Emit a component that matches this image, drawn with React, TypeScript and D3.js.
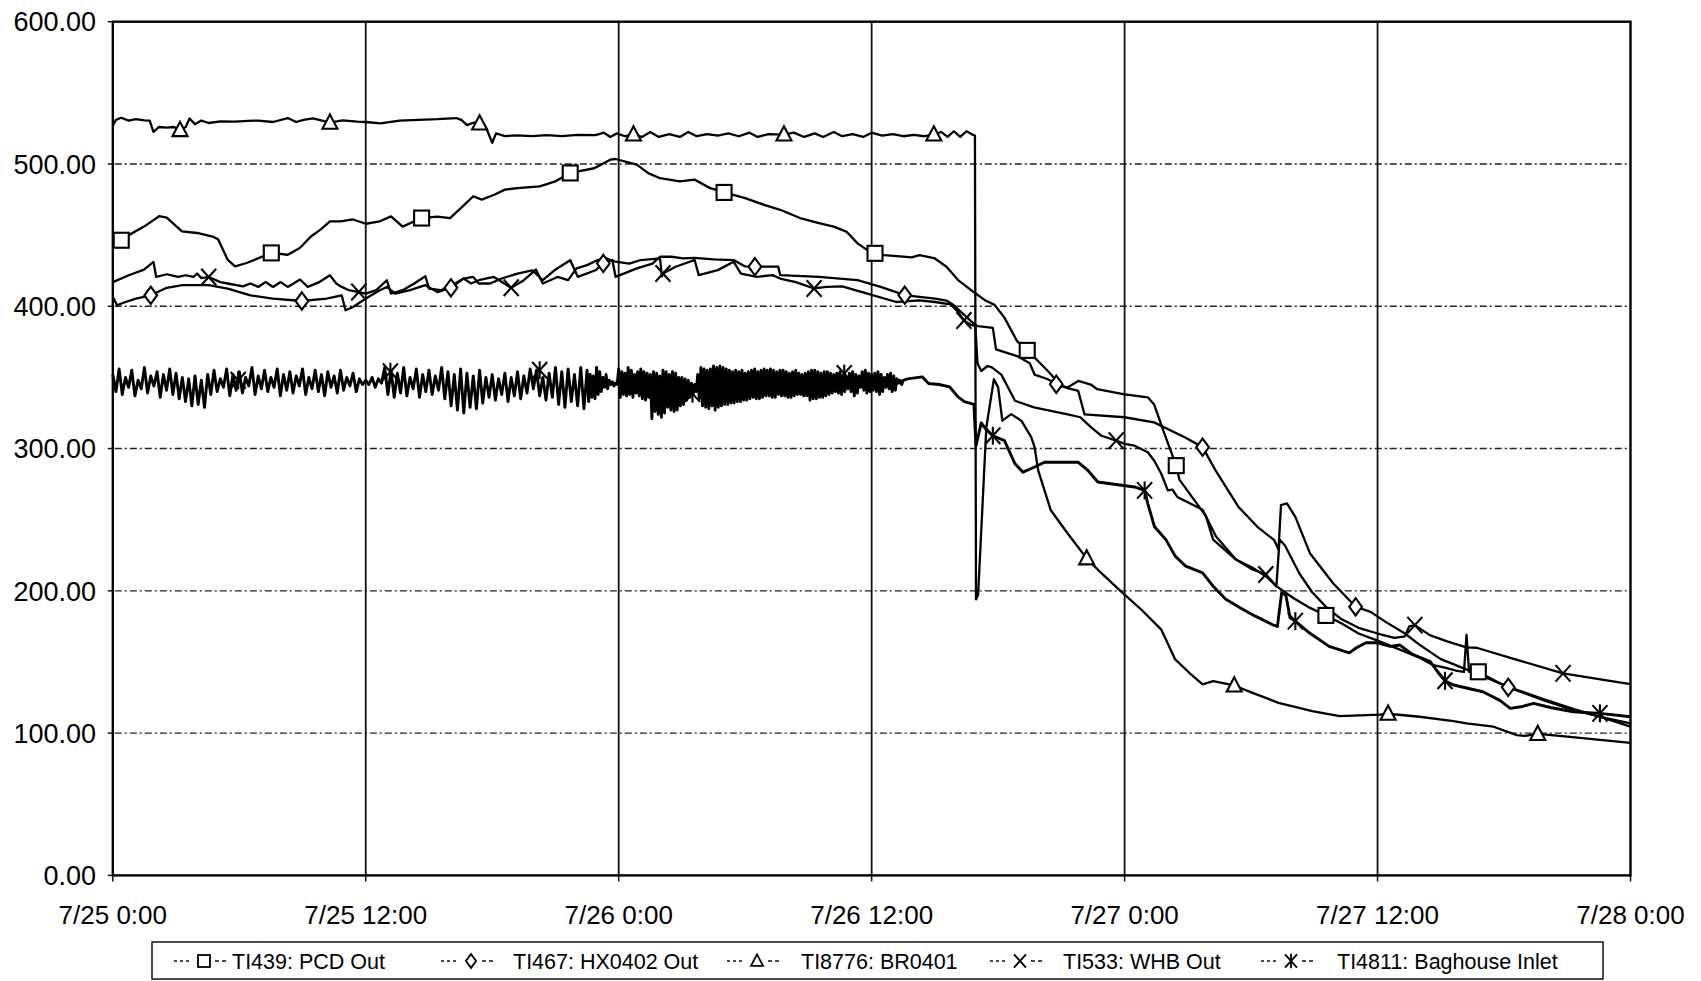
import React from 'react';
import * as d3 from 'd3';

type P = [number, number];

const W = 1701, H = 981;
const PL = 112.8, PR = 1630.5, PT = 21.7, PB = 875.4;

const xTickHours = [0, 12, 24, 36, 48, 60, 72];
const xTickLabels = ['7/25 0:00', '7/25 12:00', '7/26 0:00', '7/26 12:00', '7/27 0:00', '7/27 12:00', '7/28 0:00'];
const yTicks = [0, 100, 200, 300, 400, 500, 600];

// hours since 7/25 0:00, temperature
const pcdOut: P[] = [
[0,446.4],[0.4,446.4],[0.76,450],[1.48,456],[2.2,463.3],[2.56,462.3],[3.28,452.6],[4.0,451.5],[4.73,449],[5.0,447],[5.45,432.7],[5.8,428],[6.35,430.4],[7.52,437.5],[8.3,436.2],[8.87,441],[9.4,449],[9.87,454],[10.3,459.7],[10.8,459.7],[11.4,461],[12.0,458],[12.67,459.7],[13.2,463.2],[13.75,456],[14.65,462],[15.4,463],[16.0,462],[16.6,470.2],[17.1,477.3],[17.5,475],[18.1,478.4],[18.6,482],[19.2,483],[20.25,484.3],[21.0,487.8],[21.7,493.7],[22.84,497],[23.6,503],[23.85,503.5],[24.86,499.5],[25.4,493.6],[25.96,490],[26.9,487.8],[27.6,489],[28.35,483],[29.0,480],[30.0,476],[30.9,471.3],[31.66,467.8],[32.6,462],[33.5,458.4],[34.2,456],[34.8,452.5],[35.33,444.2],[35.9,438.4],[36.16,437.2],[36.6,436],[37.9,434.4],[38.27,436],[39.0,433.6],[39.55,427.8],[40.1,418.4],[40.84,410],[41.4,404],[41.83,401],[42.3,392],[42.9,375.5],[43.38,369],[43.73,363.9],[44.36,354.5],[45.0,344],[45.3,343],[45.8,347.5],[46.4,345],[46.7,341.7],[48.0,338],[49.1,336],[49.4,331],[49.9,310],[50.45,288],[50.6,278.2],[51.86,252.5],[52.2,236],[53.28,222],[54.07,216.2],[54.7,210.3],[55.2,203.3],[56.0,195],[56.8,188],[57.55,182.7],[58.3,177],[59.1,170],[60.0,165],[61.0,159],[62.0,153],[62.6,148],[63.2,146],[63.7,144],[64.1,143],[64.22,169],[64.34,143],[64.78,143.1],[65.8,135],[66.2,132.5],[67.86,124],[69.28,117],[70.55,111.5],[72,104.5]
];

const hx0402Out: P[] = [
[0,406.6],[0.2,400.7],[0.6,403],[1.1,405.4],[1.8,407.7],[2.56,413],[3.3,414.8],[4.55,414.8],[5.45,412.4],[6.53,407.7],[7.6,405.4],[8.97,403.7],[10.14,405.4],[10.86,407.7],[11.04,397.2],[11.4,399.5],[12.0,405.4],[12.67,411.3],[13.0,413.6],[13.4,408.9],[14.1,411.3],[14.83,414.8],[15.4,410],[16.04,413],[16.64,419.5],[17.1,420.6],[17.36,416],[17.9,416],[18.45,419.5],[19.2,423],[19.9,425.3],[20.4,418.3],[20.95,425.3],[21.7,432.4],[22.06,420.7],[22.9,425.3],[23.27,430.1],[23.7,432.5],[23.85,420.7],[24.86,426.6],[25.6,430],[25.96,434.8],[26.5,434.8],[27.05,433.6],[27.6,434],[28.5,433],[29.45,432.5],[30.0,428],[30.46,427.8],[31.57,427.8],[31.66,421.9],[33.5,420.7],[35.33,418.4],[36.43,413.6],[37.57,407.8],[38.27,406.6],[39.0,405.4],[39.55,404],[39.9,400.7],[40.84,387.8],[41.04,386],[41.75,384.8],[41.9,369.7],[42.9,365],[43.5,360],[43.73,352],[44.36,348.7],[44.76,345.2],[45.3,342.5],[45.8,340.5],[46.1,324],[48.0,322],[49.4,318.4],[50.85,308],[51.7,301],[52.3,285],[53.4,259],[54.3,245],[55.1,235.6],[55.3,229],[55.42,260.2],[55.7,261.4],[56.1,252],[56.8,226.2],[57.9,205.2],[58.96,188.8],[59.67,185.2],[60.4,178],[61.3,170],[62.0,162],[63.0,152],[64.0,146],[65.0,140],[65.8,135],[66.2,132.2],[67.86,123.2],[69.28,116.2],[70.55,111.5],[72,106.9]
];

const br0401: P[] = [
[0,527],[0.15,531],[0.4,532.5],[0.75,530.5],[1.1,531.5],[1.5,530.7],[1.75,530.5],[1.93,522.6],[2.2,526],[2.56,525.5],[2.9,526],[3.19,523.8],[3.46,526],[3.64,532],[3.9,528],[4.2,530.5],[4.55,528.8],[5.1,530],[5.8,529.7],[6.4,530.3],[6.9,530.5],[7.6,529.5],[8.3,532.3],[8.7,529.5],[9.05,531],[9.5,532],[10.3,529],[10.9,530.7],[11.6,529.8],[12.0,529.5],[12.7,528.5],[13.6,530.5],[14.5,531],[15.4,531.5],[16.3,532.3],[16.55,530.8],[16.8,527.3],[17.1,529],[17.4,528.5],[17.72,525],[18.0,514.9],[18.18,521.5],[18.6,519.6],[19.15,520.1],[19.9,519.6],[20.6,520.3],[21.3,519.6],[22.05,520.5],[22.9,520.3],[23.3,522],[23.6,519],[23.9,521.5],[24.3,519.5],[24.7,520.7],[25.1,519],[25.5,522.5],[25.9,519],[26.4,521],[26.9,519],[27.3,522.5],[27.7,519.5],[28.2,521],[28.7,520],[29.2,521.5],[29.7,519.5],[30.2,522],[30.6,519],[31.1,521],[31.84,520.7],[32.3,522],[32.8,519],[33.3,521.5],[33.7,519],[34.2,522.5],[34.6,519.5],[35.1,521],[35.6,519],[36.0,522],[36.5,520],[37.0,521],[37.5,519.5],[38.0,520.5],[38.5,519.5],[38.95,520.7],[39.3,522.5],[39.6,519],[39.9,523],[40.2,519],[40.5,523],[40.8,520.5],[40.9,520],[40.95,194],[41.05,197],[41.44,315],[41.8,348.7],[42.0,343],[42.2,319.6],[42.62,324.2],[43.1,319.6],[43.57,308],[43.73,301],[43.9,284.6],[44.2,270.6],[44.5,256.6],[45.3,240.3],[46.2,222.8],[46.9,212.4],[47.84,199.5],[48.8,186.7],[49.74,172.7],[49.96,165.8],[50.4,151.8],[51.07,142.4],[51.7,134.2],[52.2,136.5],[53.2,133.5],[54.07,128.3],[55.3,121.3],[56.9,115.5],[58.2,112],[60.1,113],[60.5,113.6],[62.0,111.5],[63.6,108.4],[64.22,106.9],[65.5,104.5],[66.6,98.6],[67.0,98],[67.6,99.4],[69.0,97.5],[72,93.2]
];

const whbOut: P[] = [
[0,417],[0.76,421.8],[1.48,425.8],[1.93,431.2],[2.06,420.6],[2.56,422.5],[3.1,420.6],[3.46,421.8],[3.82,420.6],[4.0,423],[4.2,419.8],[4.55,420.6],[5.1,417],[5.45,416],[6.17,414],[6.53,416],[6.9,413.6],[7.25,417],[7.6,413.6],[7.96,417],[8.3,413.6],[8.88,418.8],[9.25,413.6],[9.8,417],[10.3,421.8],[10.6,416],[10.86,413.6],[11.2,411.3],[11.67,410],[12.0,408.9],[12.5,411.3],[13.0,418.3],[13.2,408.9],[13.75,411.3],[14.3,416],[14.83,421.1],[15.0,412.4],[15.56,411.3],[16.1,414.8],[16.64,419.5],[17.0,416],[17.36,418.3],[18.08,420.6],[18.9,413],[19.5,418.3],[20.07,425.8],[20.4,416],[21.1,420.6],[21.6,418.4],[22.0,426.6],[22.5,428.9],[23.0,432.5],[23.4,433.6],[23.85,431.3],[24.5,430],[25.05,432.5],[25.96,433.6],[26.05,421],[26.1,423],[26.7,427.8],[27.6,432.5],[27.8,421.9],[28.7,425.4],[29.45,431.3],[29.8,423],[30.56,420.7],[31.3,421.9],[31.66,419.5],[32.4,417],[33.27,412.5],[33.86,413.6],[34.6,414],[35.88,408.5],[37.17,403],[38.27,404.2],[39.0,403],[39.74,401.4],[40.1,396],[40.38,390],[40.7,387],[40.92,386],[41.02,360],[41.2,354.5],[41.5,358],[41.7,357],[42.15,352],[42.8,333.6],[43.7,329],[45.3,324],[45.9,322],[46.4,315],[46.9,309],[47.6,305.6],[48.0,303.3],[48.47,302],[49.1,297.4],[49.4,291.6],[49.74,282.3],[50.05,270.6],[50.27,271.2],[50.5,266],[51.7,257],[52.33,238.4],[53.28,222],[54.07,215],[54.7,211.5],[55.2,203],[55.35,236],[55.6,232],[56.3,212],[56.9,199],[57.6,188],[58.3,180],[59.1,174],[60.0,170],[60.8,167],[61.3,168],[61.5,175],[61.77,175.9],[62.48,168.9],[63.3,164.5],[64.22,160.3],[64.7,160],[66.5,152],[68.8,142],[70.5,138],[72,134.5]
];

// Baghouse inlet: oscillating readings, first block sampled every 0.15 h from 7/25 0:00
const bagNoiseAStart = 0;
const bagNoiseAStep = 0.15;
const bagNoiseA: number[] = [
352,340,356,338,350,343,355,337,348,342,
357,339,351,344,354,336,352,341,356,338,
353,335,350,333,349,330,351,331,348,329,
352,338,355,340,349,343,356,337,352,341,
354,339,350,344,357,338,351,342,355,340,
350,343,356,337,352,341,354,339,351,344,
356,338,350,342,355,340,352,337,354,343,
351,339,355,341,350,344,353,340,349,345,
348,345,350,343,349,346,357,338,355,336,
353,339,357,337,350,342,356,336,352,340,
355,338,351,341,357,335,354,330,352,327,
356,325,353,329,351,328,355,332,350,336,
352,334,349,338,353,333,350,337,354,335,
351,339,356,342,355,337,350,334,353,336,
357,331,354,329,356,333,352,330,357,328
];
// second, denser block sampled every 0.075 h from 7/25 22:30
const bagNoiseBStart = 22.5;
const bagNoiseBStep = 0.075;
const bagNoiseB: number[] = [
355,333,352,336,351,335,357,338,354,340,350,343,352,342,348,345,347,344,346,345,
356,336,354,338,353,337,357,338,355,336,352,339,354,337,356,335,354,334,353,336,
352,321,354,326,353,324,351,322,355,325,354,329,352,327,354,326,353,327,350,330,
350,331,349,334,348,336,346,338,345,340,352,335,357,330,356,329,355,328,356,330,
358,327,357,329,358,330,357,331,356,331,355,332,354,332,355,333,354,333,355,334,
353,334,354,335,355,336,356,335,354,335,355,336,356,337,355,337,356,336,355,336,
354,338,355,337,355,337,354,336,353,336,354,337,355,338,353,338,352,337,353,337,
354,334,355,335,355,335,354,336,353,336,354,337,354,338,353,339,352,340,353,339,
354,338,351,340,350,342,353,340,354,337,352,339,351,343,354,341,355,339,353,340,
352,341,353,340,354,338,352,340,350,343,352,342,353,340,351,341,349,346,348,345
];
const bagTail: P[] = [
[37.5,348],[37.7,349],[38.4,350.4],[38.7,345.7],[39.2,345],[39.7,343.3],[40.1,336.3],[40.4,333],[40.85,331],[40.95,302],[41.2,318],[41.45,313],[41.75,309],[42.3,305.6],[42.8,289.3],[43.18,283.4],[43.73,287],[44.2,290.4],[45.79,290.4],[46.26,284.6],[46.73,276.5],[48.47,273],[48.95,270.6],[49.1,261.3],[49.42,245],[49.96,236],[50.4,224.4],[50.9,217.3],[51.7,212.6],[52.2,203.3],[52.8,194],[53.6,187],[54.2,182.2],[55.0,176.3],[55.25,175],[55.45,198.6],[55.65,197],[55.85,181],[56.1,178.7],[56.76,170.5],[57.7,161],[58.66,156.4],[59.0,160],[59.45,163.5],[60.0,163.5],[60.6,161],[61.06,161.9],[61.66,155.3],[62.5,150.2],[62.77,144.7],[63.2,136.8],[63.6,133.8],[65.0,129.1],[65.8,123],[66.3,117.4],[66.8,118.5],[67.4,120.9],[68.2,118],[69.28,115],[70.55,113.9],[72,111.5]
];

const pcdMarkers: P[] = [[0.4,446.4],[7.52,437.5],[14.65,462],[21.7,493.7],[29.0,480],[36.16,437.2],[43.38,369],[50.45,288],[57.55,182.7],[64.78,143.1]];
const hxMarkers: P[] = [[1.8,407.7],[8.97,403.7],[16.04,413],[23.27,430.1],[30.46,427.8],[37.57,407.8],[44.76,345.2],[51.7,301],[58.96,188.8],[66.2,132.2]];
const brMarkers: P[] = [[3.19,523.8],[10.3,529],[17.4,528.5],[24.7,520.7],[31.84,520.7],[38.95,520.7],[46.2,222.8],[53.2,133.5],[60.5,113.6],[67.6,99.4]];
const whbMarkers: P[] = [[4.55,420.6],[11.67,410],[18.9,413],[26.1,423],[33.27,412.5],[40.38,390],[47.6,305.6],[54.7,211.5],[61.77,175.9],[68.8,142]];
const bagMarkers: P[] = [[5.95,348],[13.17,354],[20.25,355],[27.5,338.6],[34.7,352.7],[41.75,309],[48.95,270.6],[56.1,178.7],[63.2,136.8],[70.55,113.9]];

const legendLabels = ['TI439: PCD Out', 'TI467: HX0402 Out', 'TI8776: BR0401', 'TI533: WHB Out', 'TI4811: Baghouse Inlet'];
const legendSymbols = ['square', 'diamond', 'triangle', 'x', 'asterisk'];

const FONT = "'Liberation Sans', Arial, sans-serif";

function Symbol({ type, cx, cy, s, sw }: { type: string; cx: number; cy: number; s: number; sw: number }) {
  const st = { stroke: '#000', strokeWidth: sw, fill: '#fff' };
  const h = s / 2;
  if (type === 'square') return <rect x={cx - h} y={cy - h} width={s} height={s} {...st} />;
  if (type === 'diamond')
    return <polygon points={`${cx},${cy - h * 1.15} ${cx + h * 0.85},${cy} ${cx},${cy + h * 1.15} ${cx - h * 0.85},${cy}`} {...st} />;
  if (type === 'triangle')
    return <polygon points={`${cx},${cy - h * 1.1} ${cx + h},${cy + h * 0.8} ${cx - h},${cy + h * 0.8}`} {...st} />;
  if (type === 'x')
    return (
      <g stroke="#000" strokeWidth={sw}>
        <line x1={cx - h} y1={cy - h * 1.1} x2={cx + h} y2={cy + h * 1.1} />
        <line x1={cx + h} y1={cy - h * 1.1} x2={cx - h} y2={cy + h * 1.1} />
      </g>
    );
  return (
    <g stroke="#000" strokeWidth={sw}>
      <line x1={cx - h} y1={cy - h * 1.1} x2={cx + h} y2={cy + h * 1.1} />
      <line x1={cx + h} y1={cy - h * 1.1} x2={cx - h} y2={cy + h * 1.1} />
      <line x1={cx} y1={cy - h * 1.2} x2={cx} y2={cy + h * 1.2} />
    </g>
  );
}

export default function App() {
  const x = d3.scaleLinear().domain([0, 72]).range([PL, PR]);
  const y = d3.scaleLinear().domain([0, 600]).range([PB, PT]);
  const line = d3.line<P>().x(d => x(d[0])).y(d => y(d[1]));

  const bagPts: P[] = [
    ...bagNoiseA.map((v, i) => [bagNoiseAStart + i * bagNoiseAStep, v] as P),
    ...bagNoiseB.map((v, i) => [bagNoiseBStart + i * bagNoiseBStep, v] as P),
    ...bagTail,
  ];

  const series = [
    { data: pcdOut, markers: pcdMarkers, sym: 'square', w: 2.3 },
    { data: hx0402Out, markers: hxMarkers, sym: 'diamond', w: 2.3 },
    { data: br0401, markers: brMarkers, sym: 'triangle', w: 2.3 },
    { data: whbOut, markers: whbMarkers, sym: 'x', w: 2.3 },
    { data: bagPts, markers: bagMarkers, sym: 'asterisk', w: 2.9 },
  ];

  const legendSymX = [204, 471, 757, 1020, 1291];
  const legendTextX = [232, 513, 801, 1063, 1337];
  const legY = 961;

  return (
    <svg width={W} height={H} style={{ position: 'absolute', left: 0, top: 0, background: '#fff' }} fontFamily={FONT}>
      <rect x={0} y={0} width={W} height={H} fill="#fff" />
      {yTicks.filter(t => t > 0 && t < 600).map(t => (
        <line key={'hy' + t} x1={PL + 2} x2={PR - 2} y1={y(t)} y2={y(t)} stroke="#222" strokeWidth={1.4} strokeDasharray="7 3 2 3" />
      ))}
      {xTickHours.filter(t => t > 0 && t < 72).map(t => (
        <line key={'vx' + t} x1={x(t)} x2={x(t)} y1={PT} y2={PB} stroke="#111" strokeWidth={1.8} />
      ))}
      {series.map((s, i) => (
        <path key={'l' + i} d={line(s.data) || ''} fill="none" stroke="#000" strokeWidth={s.w} strokeLinejoin="round" />
      ))}
      {series.map((s, i) => (
        <g key={'m' + i}>
          {s.markers.map((m, j) => (
            <Symbol key={j} type={s.sym} cx={x(m[0])} cy={y(m[1])} s={15} sw={2.1} />
          ))}
        </g>
      ))}
      <rect x={PL} y={PT} width={PR - PL} height={PB - PT} fill="none" stroke="#000" strokeWidth={2.4} />
      {yTicks.map(t => (
        <g key={'yt' + t}>
          <line x1={PL - 5} x2={PL} y1={y(t)} y2={y(t)} stroke="#111" strokeWidth={1.5} />
          <text x={96} y={y(t)} dy="0.36em" textAnchor="end" fontSize={27} fill="#000">
            {t.toFixed(2)}
          </text>
        </g>
      ))}
      {xTickHours.map((t, i) => (
        <g key={'xt' + t}>
          <line x1={x(t)} x2={x(t)} y1={PB} y2={PB + 6} stroke="#111" strokeWidth={1.5} />
          <text x={x(t)} y={924} textAnchor="middle" fontSize={26} fill="#000">
            {xTickLabels[i]}
          </text>
        </g>
      ))}
      <rect x={152} y={942} width={1451} height={37} fill="none" stroke="#111" strokeWidth={1.5} />
      {legendLabels.map((lab, i) => (
        <g key={'lg' + i}>
          <line x1={legendSymX[i] - 30} x2={legendSymX[i] - 12} y1={legY} y2={legY} stroke="#111" strokeWidth={1.6} strokeDasharray="3 3" />
          <line x1={legendSymX[i] + 11} x2={legendSymX[i] + 25} y1={legY} y2={legY} stroke="#111" strokeWidth={1.6} strokeDasharray="4 3" />
          <Symbol type={legendSymbols[i]} cx={legendSymX[i]} cy={legY} s={12} sw={1.8} />
          <text x={legendTextX[i]} y={legY} dy="0.36em" fontSize={21.5} fill="#000">
            {lab}
          </text>
        </g>
      ))}
    </svg>
  );
}
